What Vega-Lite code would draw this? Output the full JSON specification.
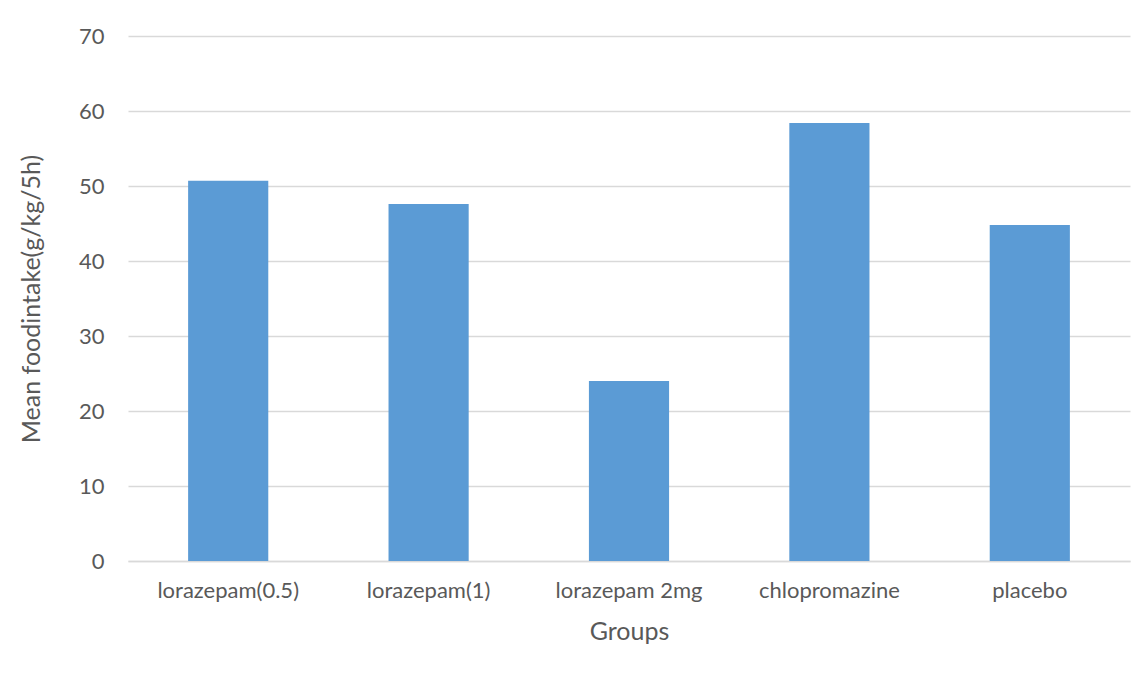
{
  "$schema": "https://vega.github.io/schema/vega-lite/v6.json",
  "width": 1002,
  "height": 525,
  "autosize": {"type": "none"},
  "padding": {"left": 128, "top": 36, "right": 17, "bottom": 114},
  "background": "white",
  "data": {
    "values": [
      {"group": "lorazepam(0.5)", "intake": 50.7},
      {"group": "lorazepam(1)", "intake": 47.6},
      {"group": "lorazepam 2mg", "intake": 24.0},
      {"group": "chlopromazine", "intake": 58.4},
      {"group": "placebo", "intake": 44.8}
    ]
  },
  "mark": {"type": "bar", "color": "#5b9bd5"},
  "encoding": {
    "x": {
      "field": "group",
      "type": "nominal",
      "sort": null,
      "scale": {"paddingInner": 0.6, "paddingOuter": 0.3},
      "axis": {
        "title": "Groups",
        "labelAngle": 0,
        "ticks": false,
        "labelPadding": 19,
        "titlePadding": 18,
        "domainColor": "#d9d9d9",
        "domainWidth": 1.3
      }
    },
    "y": {
      "field": "intake",
      "type": "quantitative",
      "scale": {"domain": [0, 70]},
      "axis": {
        "title": "Mean foodintake(g/kg/5h)",
        "values": [0, 10, 20, 30, 40, 50, 60, 70],
        "ticks": false,
        "domain": false,
        "labelPadding": 24,
        "titlePadding": 34,
        "gridColor": "#d9d9d9",
        "gridWidth": 1.3
      }
    }
  },
  "config": {
    "view": {"stroke": null},
    "font": "Lato",
    "axis": {
      "labelFont": "Lato",
      "labelFontSize": 22,
      "labelColor": "#595959",
      "titleFont": "Lato",
      "titleFontSize": 25,
      "titleFontWeight": "normal",
      "titleColor": "#595959"
    }
  }
}
